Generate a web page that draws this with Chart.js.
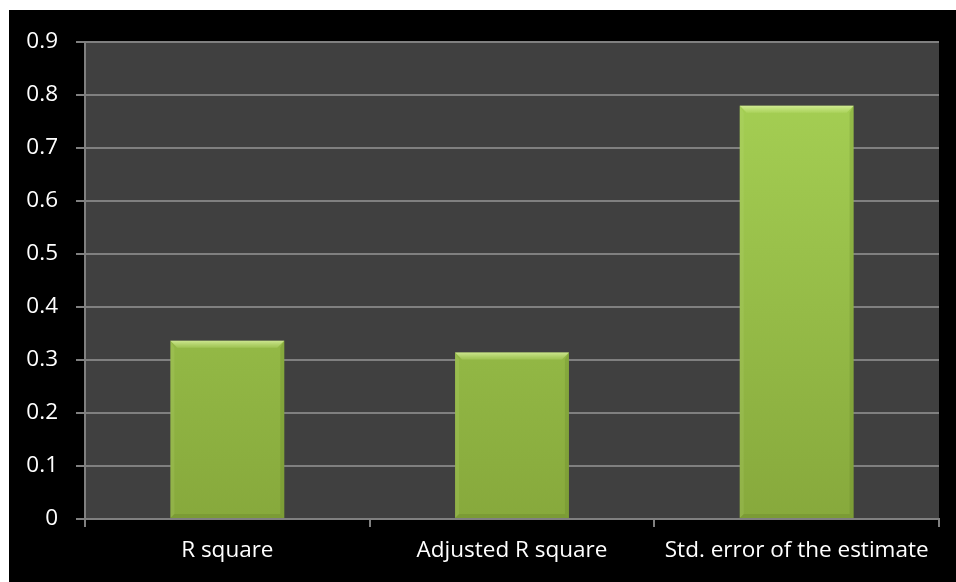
<!DOCTYPE html>
<html>
<head>
<meta charset="utf-8">
<script src="https://cdn.jsdelivr.net/npm/chart.js@4/dist/chart.umd.min.js"></script>
<style>
  html, body { margin: 0; padding: 0; background: #ffffff; }
  #wrap { position: absolute; left: 9px; top: 10px; width: 947px; height: 572px; background: #000000; }
</style>
</head>
<body>
<div id="wrap"><canvas id="graph" width="947" height="572"></canvas></div>
<script>
const categories = ['R square', 'Adjusted R square', 'Std. error of the estimate'];
const values = [0.336, 0.314, 0.779];
const yTickLabels = ['0', '0.1', '0.2', '0.3', '0.4', '0.5', '0.6', '0.7', '0.8', '0.9'];

const gridColor = '#808080';
const labelFont = { family: 'Open Sans', size: 22.5 };

// dark plot background
const plotBg = {
    id: 'plotBg',
    beforeDraw(chart) {
        const a = chart.chartArea;
        const ctx = chart.ctx;
        ctx.save();
        ctx.fillStyle = '#404040';
        ctx.fillRect(a.left, a.top, a.right - a.left, a.bottom - a.top);
        ctx.restore();
    }
};

// soft bevel on the bars
const bevel = {
    id: 'bevel',
    afterDatasetsDraw(chart) {
        const ctx = chart.ctx;
        chart.getDatasetMeta(0).data.forEach(bar => {
            const l = bar.x - bar.width / 2, r = bar.x + bar.width / 2;
            const t = bar.y, b = bar.base;
            const d = 7, s = 4;
            ctx.save();
            // top
            const gt = ctx.createLinearGradient(0, t, 0, t + d);
            gt.addColorStop(0, 'rgba(225,245,170,0.75)');
            gt.addColorStop(1, 'rgba(200,232,130,0.25)');
            ctx.fillStyle = gt;
            ctx.beginPath();
            ctx.moveTo(l, t); ctx.lineTo(r, t); ctx.lineTo(r - d, t + d); ctx.lineTo(l + d, t + d);
            ctx.closePath(); ctx.fill();
            // left
            ctx.fillStyle = 'rgba(200,230,140,0.15)';
            ctx.beginPath();
            ctx.moveTo(l, t); ctx.lineTo(l + s, t + d); ctx.lineTo(l + s, b - s); ctx.lineTo(l, b);
            ctx.closePath(); ctx.fill();
            // right
            ctx.fillStyle = 'rgba(80,105,30,0.18)';
            ctx.beginPath();
            ctx.moveTo(r, t); ctx.lineTo(r - s, t + d); ctx.lineTo(r - s, b - s); ctx.lineTo(r, b);
            ctx.closePath(); ctx.fill();
            // bottom
            ctx.fillStyle = 'rgba(80,105,30,0.22)';
            ctx.beginPath();
            ctx.moveTo(l, b); ctx.lineTo(r, b); ctx.lineTo(r - s, b - s); ctx.lineTo(l + s, b - s);
            ctx.closePath(); ctx.fill();
            ctx.restore();
        });
    }
};

const ctx = document.getElementById('graph');
new Chart(ctx, {
    type: 'bar',
    data: {
        labels: categories,
        datasets: [{
            data: values,
            backgroundColor: (c) => {
                const area = c.chart.chartArea;
                if (!area) return '#9cc44a';
                const g = c.chart.ctx.createLinearGradient(0, area.top, 0, area.bottom);
                g.addColorStop(0, '#a8d356');
                g.addColorStop(1, '#87a93c');
                return g;
            },
            borderWidth: 0,
            categoryPercentage: 1,
            barPercentage: 0.4
        }]
    },
    options: {
        responsive: false,
        animation: false,
        layout: { padding: { left: 0, right: 17, top: 30, bottom: 0 } },
        plugins: { legend: { display: false }, tooltip: { enabled: false } },
        scales: {
            x: {
                grid: { display: true, drawOnChartArea: false, drawTicks: true, tickLength: 8, color: gridColor, lineWidth: 2, offset: true },
                border: { display: true, color: gridColor, width: 2 },
                ticks: { color: '#ffffff', font: labelFont, padding: 10 },
                afterFit: s => { s.height = 63; }
            },
            y: {
                min: 0,
                max: 0.9,
                ticks: {
                    stepSize: 0.1,
                    color: '#ffffff',
                    font: labelFont,
                    padding: 18,
                    callback: (v, i) => yTickLabels[i]
                },
                grid: { color: gridColor, lineWidth: 2, tickLength: 9 },
                border: { display: true, color: gridColor, width: 2 },
                afterFit: s => { s.width = 76; }
            }
        }
    },
    plugins: [plotBg, bevel]
});
</script>
</body>
</html>
